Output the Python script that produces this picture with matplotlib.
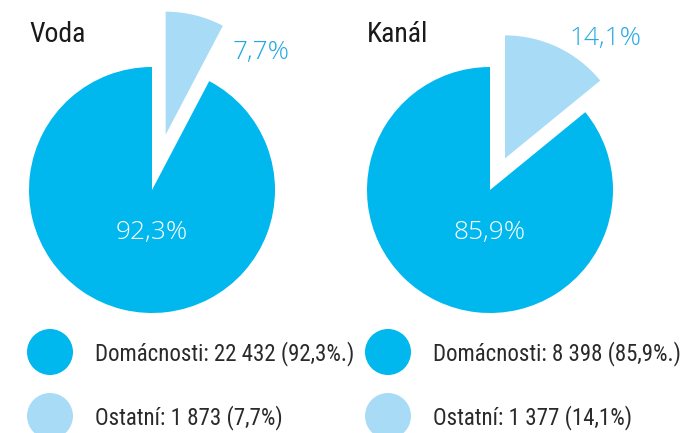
import matplotlib.pyplot as plt
from matplotlib.patches import Circle

# data
titles = ["Voda", "Kanál"]
shares = [[7.7, 92.3], [14.1, 85.9]]          # ostatní, domácnosti (%)
counts = [["1 873", "22 432"], ["1 377", "8 398"]]
category_names = ["Ostatní", "Domácnosti"]

c_main = "#00b7ee"
c_other = "#a8dcf6"
c_label = "#22a8e2"

W, H = 683, 433


def pct(v):
    return f"{v:.1f}".replace(".", ",") + "%"


fig = plt.figure(figsize=(W / 100, H / 100), dpi=100)
ax = fig.add_axes([0, 0, 1, 1])

narrow = ["Roboto Condensed", "Liberation Sans Narrow", "Roboto", "DejaVu Sans"]
light = ["Open Sans", "Roboto", "DejaVu Sans"]

centers = [(152, H - 190), (490, H - 190)]
explode_px = [57, 35]
radius = 123
title_pos = [(29, H - 35), (367, H - 35)]
small_lab_pos = [(261, H - 53), (605, H - 39)]
legend_x = [50, 388]
legend_y = [H - 352, H - 416]

for i in range(2):
    ax.pie(shares[i], colors=[c_other, c_main], startangle=90, counterclock=False,
           center=centers[i], radius=radius, explode=[explode_px[i], 0],
           wedgeprops=dict(linewidth=0))
    cx, cy = centers[i]
    ax.text(cx, cy - 43, pct(shares[i][1]), color="white", fontsize=19,
            family=light, fontweight=300, ha="center", va="center")
    ax.text(*small_lab_pos[i], pct(shares[i][0]), color=c_label, fontsize=19,
            family=light, fontweight=300, ha="center", va="center")
    ax.text(*title_pos[i], titles[i], color="#1a1a1a", fontsize=20,
            family=narrow, ha="left", va="center")

    # legend
    rows = [(c_main, f"{category_names[1]}: {counts[i][1]} ({pct(shares[i][1])}.)"),
            (c_other, f"{category_names[0]}: {counts[i][0]} ({pct(shares[i][0])})")]
    for (col, txt), ly in zip(rows, legend_y):
        ax.add_patch(Circle((legend_x[i], ly), 23, color=col, lw=0))
        ax.text(legend_x[i] + 45, ly - 2, txt, color="#2a2a2a", fontsize=16.5,
                family=narrow, ha="left", va="center")

ax.set_xlim(0, W)
ax.set_ylim(0, H)
ax.set_aspect("auto")
ax.axis("off")

fig.savefig("out.png", dpi=100)
